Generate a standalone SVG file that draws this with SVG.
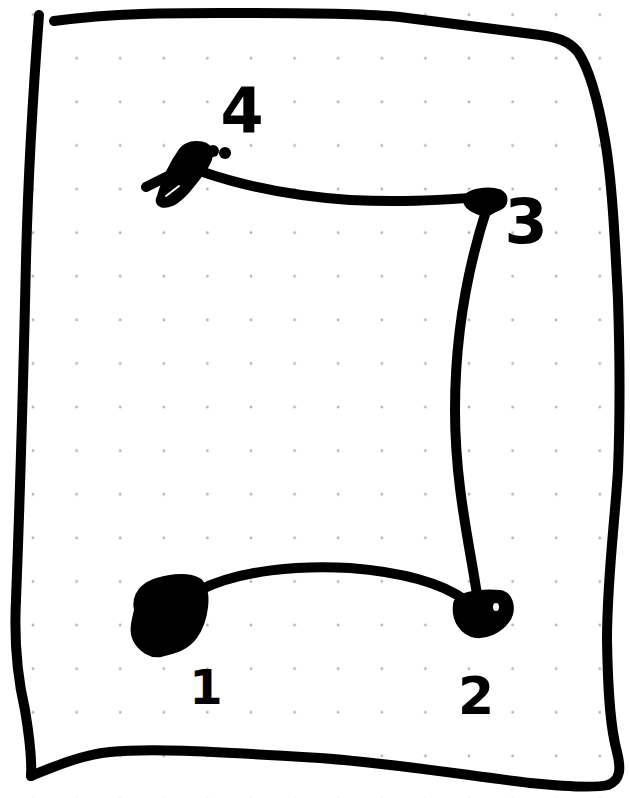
<svg xmlns="http://www.w3.org/2000/svg" width="630" height="798" viewBox="0 0 630 798">
  <defs>
    <pattern id="dots" patternUnits="userSpaceOnUse" x="11.2" y="-7.1" width="43.6" height="43.6">
      <circle cx="21.8" cy="21.8" r="1.4" fill="#b4b4b4"/>
    </pattern>
  </defs>
  <style>
    .ink { fill: none; stroke: #000; stroke-width: 10; stroke-linecap: round; stroke-linejoin: round; }
    .blob { fill: #000; stroke: #000; stroke-width: 6; stroke-linejoin: round; }
    .lbl { font-family: "DejaVu Sans", "Liberation Sans", sans-serif; font-weight: bold; fill: #000; text-anchor: middle; }
  </style>
  <rect width="630" height="798" fill="#fff"/>
  <rect width="630" height="798" fill="url(#dots)"/>

  <g id="frame">
    <path class="ink" d="M39,15 C34,80 28,180 26,260 C24,350 21,470 16,600 C14,640 18,680 25,710 C30,740 32,760 31,776"/>
    <path class="ink" d="M31,776 C50,768 80,755 110,752 C150,748 200,751 320,758 C400,764 470,776 530,783 C570,787 595,788 608,785 C621,780 621,768 617,752 C611,730 608,700 607,640 C607,580 615,520 618,470 C620,420 620,360 618,300 C615,240 612,180 605,140 C598,100 590,70 578,52 C568,40 555,37 540,35 C500,30 450,23 400,17 C360,13 300,13 250,13 C180,13 120,12 54,21"/>
  </g>

  <g id="connectors">
    <path class="ink" d="M200,171 C240,185 290,196 350,200 C410,203 450,199 485,197"/>
    <path class="ink" d="M487,208 C470,260 455,330 455,410 C455,490 472,555 478,602"/>
    <path class="ink" d="M200,590 C240,570 300,565 350,568 C400,572 440,582 465,600"/>
  </g>

  <g id="node-4">
    <path class="ink" d="M146,187 L168,176"/>
    <path class="blob" d="M160,196 C164,182 172,164 182,150 C188,143 204,141 210,150 C211,159 206,166 201,173 C192,185 182,198 172,203 C163,207 156,204 160,196 Z"/>
    <path d="M166,196 L179,186" stroke="#fff" stroke-width="2" stroke-linecap="round"/>
    <circle cx="213" cy="151" r="6" fill="#000"/>
    <circle cx="225" cy="153" r="6" fill="#000"/>
    <text class="lbl" x="242" y="132" font-size="62">4</text>
  </g>

  <g id="node-3">
    <path class="blob" d="M466,200 C466,191 489,189 499,192 C507,196 506,205 498,208 C493,210 490,212 486,214 C478,212 466,208 466,200 Z"/>
    <text class="lbl" x="526" y="243" font-size="62">3</text>
  </g>

  <g id="node-2">
    <path class="blob" d="M456,605 C456,595 480,591 500,593 C511,595 514,610 507,620 C499,631 486,636 476,635 C463,633 454,620 456,605 Z"/>
    <ellipse cx="496" cy="607" rx="3" ry="4" fill="#fff"/>
    <text class="lbl" x="476" y="714" font-size="52">2</text>
  </g>

  <g id="node-1">
    <path class="blob" d="M141,591 C151,578 185,573 199,581 C210,591 206,620 194,637 C185,649 171,651 161,654 C151,656 141,649 136,640 C131,630 135,620 137,610 C135,601 137,596 141,591 Z"/>
    <text class="lbl" x="206" y="704" font-size="48">1</text>
  </g>
</svg>
